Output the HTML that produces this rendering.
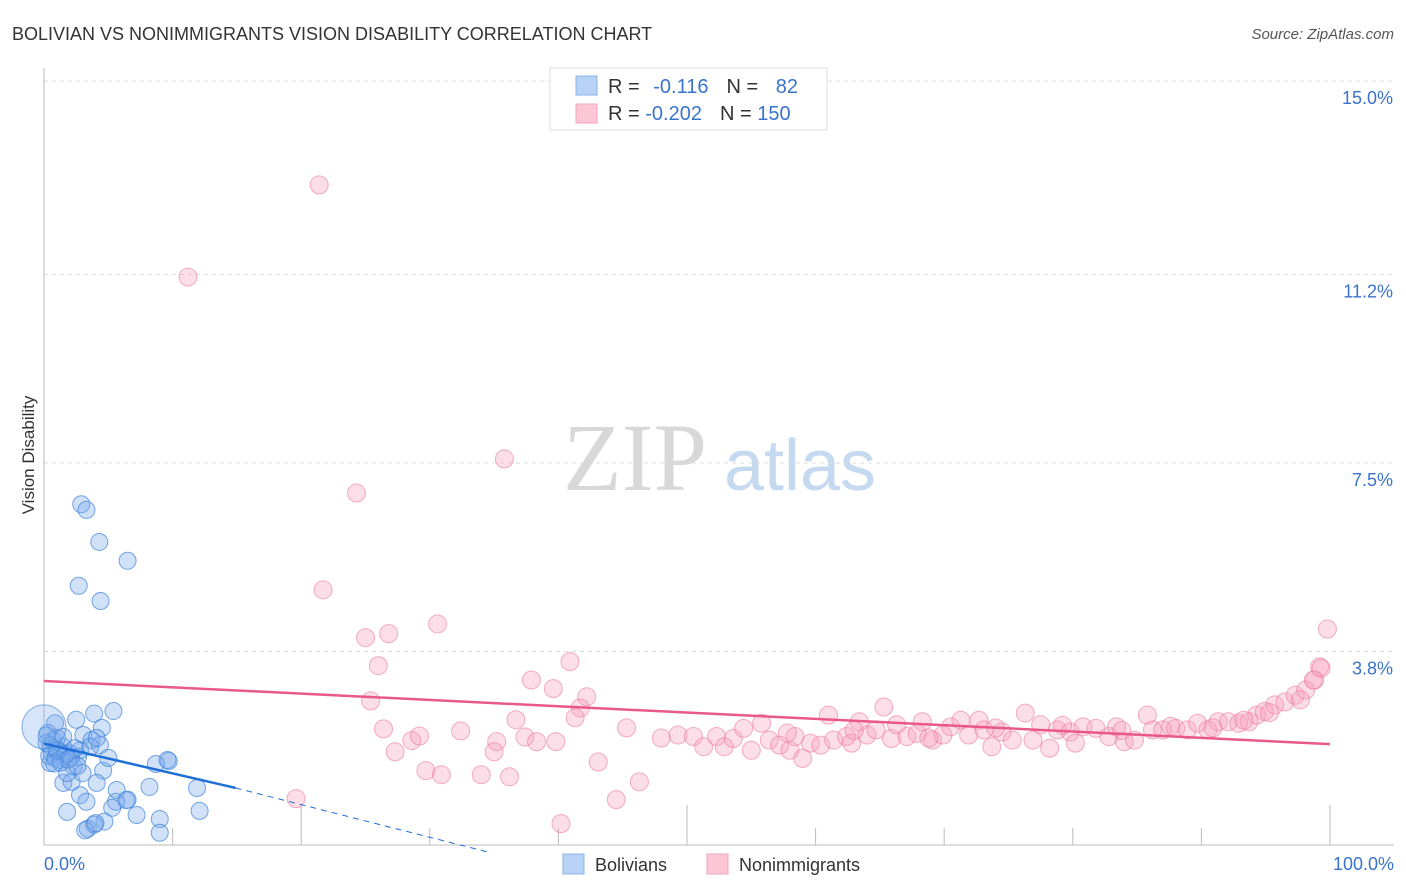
<!DOCTYPE html>
<html><head><meta charset="utf-8"><style>
body{margin:0;background:#fff;font-family:"Liberation Sans",sans-serif;}
svg{display:block}
</style></head><body>
<svg id="chart" width="1406" height="892" xmlns="http://www.w3.org/2000/svg">
<text x="12" y="40" font-size="18" fill="#333">BOLIVIAN VS NONIMMIGRANTS VISION DISABILITY CORRELATION CHART</text>
<text x="1394" y="39" font-size="15" fill="#555" font-style="italic" text-anchor="end">Source: ZipAtlas.com</text>
<text transform="translate(34,455) rotate(-90)" font-size="17" fill="#333" text-anchor="middle">Vision Disability</text>
<g>
<text x="635" y="490" font-size="96" fill="#d8d8d8" font-family="Liberation Serif,serif" text-anchor="middle">ZIP</text>
<text x="800" y="490" font-size="72" fill="#c5d9f0" text-anchor="middle">atlas</text>
</g>
<g id="grid"></g>
<g id="axes"></g>
<g id="pts"></g>
<g id="trend"></g>
<g>
<rect x="550" y="68" width="277" height="62" fill="#fff" stroke="#ddd"/>
<rect x="576" y="76" width="21" height="19" fill="#b7d2f4" stroke="#8ab4e8"/>
<rect x="576" y="104" width="21" height="19" fill="#fcc6d6" stroke="#f4a6bf"/>
<text x="608" y="93" font-size="20" fill="#333">R = <tspan fill="#3a73cc" dx="8">-0.116</tspan><tspan fill="#333" dx="18">N = </tspan><tspan fill="#3a73cc" dx="12">82</tspan></text>
<text x="608" y="120" font-size="20" fill="#333">R = <tspan fill="#3a73cc">-0.202</tspan><tspan fill="#333" dx="18">N = </tspan><tspan fill="#3a73cc">150</tspan></text>
</g>
<g>
<rect x="563" y="854" width="21" height="20" fill="#b7d2f4" stroke="#8ab4e8"/>
<text x="595" y="871" font-size="18" fill="#333">Bolivians</text>
<rect x="707" y="854" width="21" height="20" fill="#fcc6d6" stroke="#f4a6bf"/>
<text x="739" y="871" font-size="18" fill="#333">Nonimmigrants</text>
</g>
</svg>
<script>
const yTicks=[15.0,11.2,7.5,3.8];
const yTickLabels=["15.0%","11.2%","7.5%","3.8%"];
const xTickLabels=["0.0%","100.0%"];
const pinkX=[21.4,11.2,35.8,24.3,21.7,30.6,26.8,25.0,26.0,40.9,99.8,99.2,98.8,37.9,39.6,42.2,41.7,41.3,25.4,26.4,36.7,28.6,29.2,32.4,27.3,35.2,35.0,37.4,38.3,39.8,19.6,29.7,30.9,34.0,36.2,40.2,43.1,44.5,46.3,45.3,
49.3,50.5,51.3,52.3,52.9,53.6,54.4,55.0,55.8,56.4,57.2,58.0,58.4,59.0,59.6,60.4,61.0,61.4,62.4,62.8,63.4,64.0,64.7,65.3,65.9,66.3,67.1,67.9,68.3,69.1,69.9,70.5,71.3,71.9,72.7,73.1,73.7,74.5,75.3,76.3,76.9,77.5,78.2,78.8,79.8,80.2,80.8,81.8,82.8,83.4,84.0,84.8,85.8,86.2,87.0,88.0,88.9,89.7,90.5,91.3,92.1,92.9,93.7,94.3,94.9,95.7,96.5,97.3,98.1,98.7,99.3,
48.0,57.8,63.0,68.8,74.0,79.2,83.8,87.6,90.9,93.3,95.3,97.7];
const pinkY=[12.96,11.15,7.58,6.91,5.01,4.34,4.15,4.07,3.52,3.60,4.24,3.50,3.24,3.24,3.07,2.91,2.69,2.50,2.83,2.28,2.46,2.05,2.14,2.24,1.83,2.03,1.83,2.12,2.03,2.03,0.91,1.46,1.38,1.38,1.34,0.42,1.63,0.89,1.24,2.30,
2.16,2.13,1.93,2.13,1.93,2.09,2.29,1.86,2.39,2.06,1.96,1.86,2.13,1.70,2.00,1.96,2.55,2.06,2.13,2.00,2.42,2.16,2.26,2.71,2.09,2.36,2.13,2.19,2.42,2.06,2.16,2.32,2.45,2.16,2.45,2.26,1.93,2.22,2.06,2.59,2.06,2.36,1.90,2.26,2.22,2.00,2.32,2.29,2.13,2.32,2.03,2.06,2.55,2.26,2.26,2.29,2.26,2.39,2.26,2.42,2.42,2.39,2.42,2.55,2.62,2.75,2.81,2.94,3.04,3.24,3.47,
2.10,2.20,2.25,2.10,2.30,2.35,2.25,2.33,2.30,2.45,2.60,2.85];
const blueX=[2.9,3.3,4.3,6.5,2.7,4.4,5.4,3.9,2.5,4.5,9.7,8.7,4.6,8.2,11.9,6.5,5.6,5.3,12.1,7.2,9.0,9.0,4.7,3.4,3.9,1.8,
0.86,3.06,3.7,4.35,5.0,4.1,5.65,6.4,9.6,3.2,4.0,2.8,3.3,1.5,2.15,0.47,1.24,2.0,2.8,0.7,0.3,1.5,2.3,1.8,3.0,2.65,1.1,0.6,0.2,1.0,1.5,3.6,4.1,
0.4,0.9,1.3,1.7,2.1,2.4,0.5,1.0,1.9,2.6,0.2,0.8];
const blueY=[6.69,6.58,5.95,5.58,5.09,4.79,2.63,2.58,2.46,2.30,1.65,1.59,1.46,1.14,1.12,0.89,0.85,0.73,0.67,0.59,0.51,0.24,0.46,0.32,0.40,0.65,
2.39,2.16,2.06,1.96,1.71,1.22,1.08,0.88,1.67,0.29,0.43,0.98,0.85,1.22,1.24,1.61,1.67,1.80,1.86,2.06,2.20,1.93,1.54,1.41,1.41,1.73,1.86,1.80,2.00,2.10,2.12,1.93,2.10,
1.75,1.70,1.62,1.78,1.72,1.90,1.95,1.85,1.68,1.55,2.15,1.60];
const blueLargeX=[0.0], blueLargeY=[2.32];
const pinkTrend=[3.22,1.98]; // values at x=0 and x=100
const blueTrend=[1.99,1.12,-0.15]; // at x=0, 14.9 (solid end), 34.7 (dashed end)
const blueTrendX=[0,14.9,34.7];

const X0=44,X1=1330,Y0=845,YPX=191/3.75;
const sx=v=>X0+(X1-X0)*v/100;
const sy=v=>Y0-v*YPX;
const NS="http://www.w3.org/2000/svg";
function mk(tag,attrs,parent){const e=document.createElementNS(NS,tag);for(const k in attrs)e.setAttribute(k,attrs[k]);parent.appendChild(e);return e;}
const grid=document.getElementById('grid'),axes=document.getElementById('axes'),pts=document.getElementById('pts'),trend=document.getElementById('trend');
yTicks.forEach((t,i)=>{
 const l=mk('line',{x1:X0,x2:1394,y1:sy(t),y2:sy(t),stroke:'#ddd','stroke-dasharray':'4,4'},grid);
 
 
 const tx=mk('text',{x:1393,y:sy(t)+23,'font-size':18,fill:'#3a73cc','text-anchor':'end'},axes);
 tx.textContent=yTickLabels[i];
 
 
});
let a=mk('line',{x1:X0,x2:X0,y1:68,y2:Y0,stroke:'#bbb'},axes);


a=mk('line',{x1:X0,x2:1394,y1:Y0,y2:Y0,stroke:'#bbb'},axes);


for(let k=1;k<=10;k++){
 const len=(k==2||k==5||k==10)?40:17;
 const t=mk('line',{x1:sx(k*10),x2:sx(k*10),y1:Y0-len,y2:Y0,stroke:'#bbb'},axes);
 
 
}
[[0,'start',44],[100,'end',1394]].forEach((p,i)=>{
 const tx=mk('text',{x:p[2],y:870,'font-size':18,fill:'#3a73cc','text-anchor':p[1]},axes);
 tx.textContent=xTickLabels[i];
 
 
});
pinkX.forEach((x,i)=>{
 const c=mk('circle',{cx:sx(x),cy:sy(pinkY[i]),r:9,fill:'rgba(246,160,190,0.35)',stroke:'rgba(236,120,160,0.6)','stroke-width':1},pts);
 
 
});
blueX.forEach((x,i)=>{
 const c=mk('circle',{cx:sx(x),cy:sy(blueY[i]),r:8.5,fill:'rgba(120,170,235,0.35)',stroke:'rgba(60,130,220,0.7)','stroke-width':1},pts);
 
 
});
blueLargeX.forEach((x,i)=>{
 const c=mk('circle',{cx:sx(x),cy:sy(blueLargeY[i]),r:22,fill:'rgba(120,170,235,0.3)',stroke:'rgba(60,130,220,0.6)','stroke-width':1},pts);
 
 
});
let tl=mk('line',{x1:sx(0),y1:sy(pinkTrend[0]),x2:sx(100),y2:sy(pinkTrend[1]),stroke:'#e8588a','stroke-width':2.5},trend);


tl=mk('line',{x1:sx(blueTrendX[0]),y1:sy(blueTrend[0]),x2:sx(blueTrendX[1]),y2:sy(blueTrend[1]),stroke:'#1f6fd6','stroke-width':2.5},trend);


tl=mk('line',{x1:sx(blueTrendX[1]),y1:sy(blueTrend[1]),x2:sx(blueTrendX[2]),y2:sy(blueTrend[2]),stroke:'#1f6fd6','stroke-width':1,'stroke-dasharray':'6,5'},trend);


</script>
</body></html>
